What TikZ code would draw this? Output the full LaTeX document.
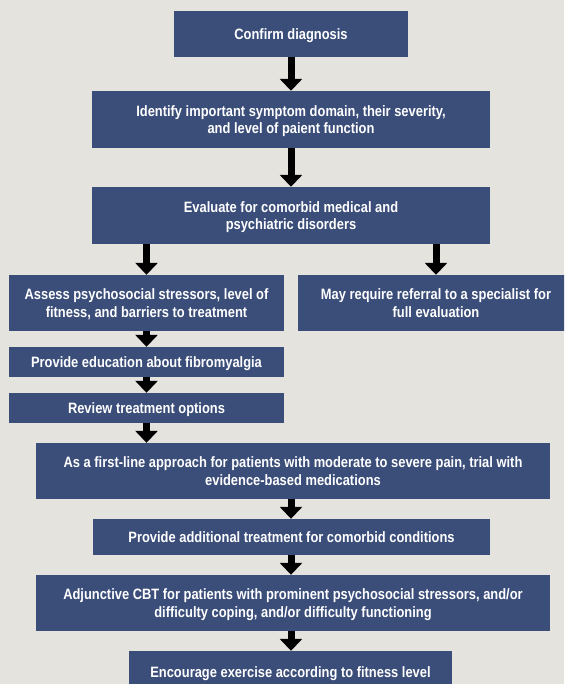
\documentclass[tikz,border=0pt]{standalone}
\usepackage{fontspec}
\setmainfont{Liberation Sans}[FakeStretch=0.86]
\usepackage{tikz}
\usetikzlibrary{arrows.meta}
\definecolor{boxblue}{RGB}{59,78,122}
\definecolor{paper}{RGB}{228,227,222}

\begin{document}
\begin{tikzpicture}[x=1pt,y=-1pt,
  flowbox/.style={fill=boxblue, text=white, font=\fontsize{15}{17.5}\selectfont\bfseries, align=center, inner sep=0pt, text depth=0pt},
  flowarrow/.style={line width=7pt, -{Triangle[width=22pt,length=12pt]}}]
\useasboundingbox (0,0) rectangle (564,684);
\clip (0,0) rectangle (564,684);
\fill[paper] (0,0) rectangle (564,684);

%Boxes
\node[flowbox, minimum width=234pt, minimum height=46pt] (confirm) at (291,34) {Confirm diagnosis};
\node[flowbox, minimum width=398pt, minimum height=57pt] (identify) at (291,119.5) {Identify important symptom domain, their severity,\\ and level of paient function};
\node[flowbox, minimum width=398pt, minimum height=57pt] (evaluate) at (291,215.5) {Evaluate for comorbid medical and\\ psychiatric disorders};
\node[flowbox, minimum width=275pt, minimum height=56pt] (assess) at (146.5,303) {Assess psychosocial stressors, level of\\ fitness, and barriers to treatment};
\node[flowbox, minimum width=276pt, minimum height=56pt] (referral) at (436,303) {May require referral to a specialist for\\ full evaluation};
\node[flowbox, minimum width=275pt, minimum height=30pt] (educate) at (146.5,362) {Provide education about fibromyalgia};
\node[flowbox, minimum width=275pt, minimum height=30pt] (review) at (146.5,408) {Review treatment options};
\node[flowbox, minimum width=514pt, minimum height=56pt] (firstline) at (293,471) {As a first-line approach for patients with moderate to severe pain, trial with\\ evidence-based medications};
\node[flowbox, minimum width=397pt, minimum height=36pt] (comorbid) at (291.5,537) {Provide additional treatment for comorbid conditions};
\node[flowbox, minimum width=514pt, minimum height=56pt] (cbt) at (293,603) {Adjunctive CBT for patients with prominent psychosocial stressors, and/or\\ difficulty coping, and/or difficulty functioning};
\node[flowbox, minimum width=323pt, minimum height=42pt] (exercise) at (290.5,672) {Encourage exercise according to fitness level};

%Arrows
\draw[flowarrow] (confirm.south) -- (confirm.south |- identify.north);
\draw[flowarrow] (identify.south) -- (identify.south |- evaluate.north);
\draw[flowarrow] (evaluate.south -| assess.north) -- (assess.north);
\draw[flowarrow] (evaluate.south -| referral.north) -- (referral.north);
\draw[flowarrow] (assess.south) -- (educate.north);
\draw[flowarrow] (educate.south) -- (review.north);
\draw[flowarrow] (review.south) -- (review.south |- firstline.north);
\draw[flowarrow] (confirm.south |- firstline.south) -- (confirm.south |- comorbid.north);
\draw[flowarrow] (confirm.south |- comorbid.south) -- (confirm.south |- cbt.north);
\draw[flowarrow] (confirm.south |- cbt.south) -- (confirm.south |- exercise.north);

\end{tikzpicture}
\end{document}
